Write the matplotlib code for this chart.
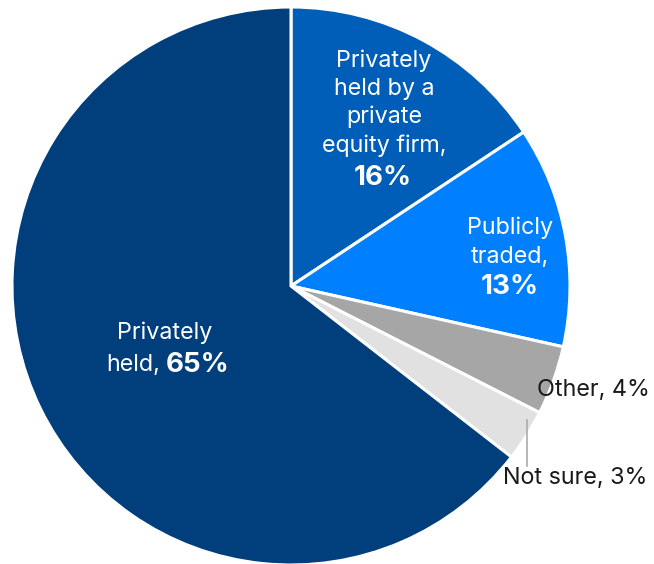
import matplotlib
matplotlib.use("Agg")
import matplotlib.pyplot as plt

plt.rcParams['font.family'] = ['Inter', 'DejaVu Sans']

# Ownership shares, clockwise from the top
categories = ["Privately held by a private equity firm", "Publicly traded", "Other", "Not sure", "Privately held"]
shares = [15.7, 12.8, 4.0, 3.0, 64.5]
pct_labels = ["16%", "13%", "4%", "3%", "65%"]
colors = ["#005EB8", "#0080FF", "#A6A6A6", "#E1E1E1", "#013E7C"]

W, H = 654, 564
fig = plt.figure(figsize=(W / 100, H / 100), dpi=100)
ax = fig.add_axes([0, 0, 1, 1])

cx, cy, r = 291, 286, 279
ax.pie(shares, colors=colors, startangle=90, counterclock=False,
       center=(cx, H - cy), radius=r, frame=True,
       wedgeprops=dict(edgecolor="white", linewidth=2.2))
ax.set_xlim(0, W)
ax.set_ylim(0, H)
ax.axis("off")

fs = 16.8
fb = 20
white = dict(color="white", fontsize=fs, ha="center", va="center")
bold = dict(color="white", fontsize=fb, ha="center", va="center", fontweight="bold")

def y(p):
    return H - p

# Privately held by a private equity firm
for txt, py in zip(["Privately", "held by a", "private", "equity firm,"], [61, 89, 117, 146]):
    ax.text(384, y(py), txt, **white)
ax.text(383, y(178), pct_labels[0], **bold)

# Publicly traded
ax.text(510, y(228), "Publicly", **white)
ax.text(510, y(257), "traded,", **white)
ax.text(510, y(287), pct_labels[1], **bold)

# Privately held
ax.text(165, y(333), "Privately", **white)
ax.text(160, y(365), "held,", color="white", fontsize=fs, ha="right", va="center")
ax.text(166, y(365), pct_labels[4], color="white", fontsize=fb, ha="left", va="center",
        fontweight="bold")

# outside labels
ax.text(537, y(390), "Other, " + pct_labels[2], color="#1a1a1a", fontsize=fs, ha="left", va="center")
ax.text(503, y(478), "Not sure, " + pct_labels[3], color="#1a1a1a", fontsize=fs, ha="left", va="center")
ax.plot([527, 527], [y(420), y(466)], color="#AAAAAA", linewidth=1.2)

fig.savefig("out.png", dpi=100)
